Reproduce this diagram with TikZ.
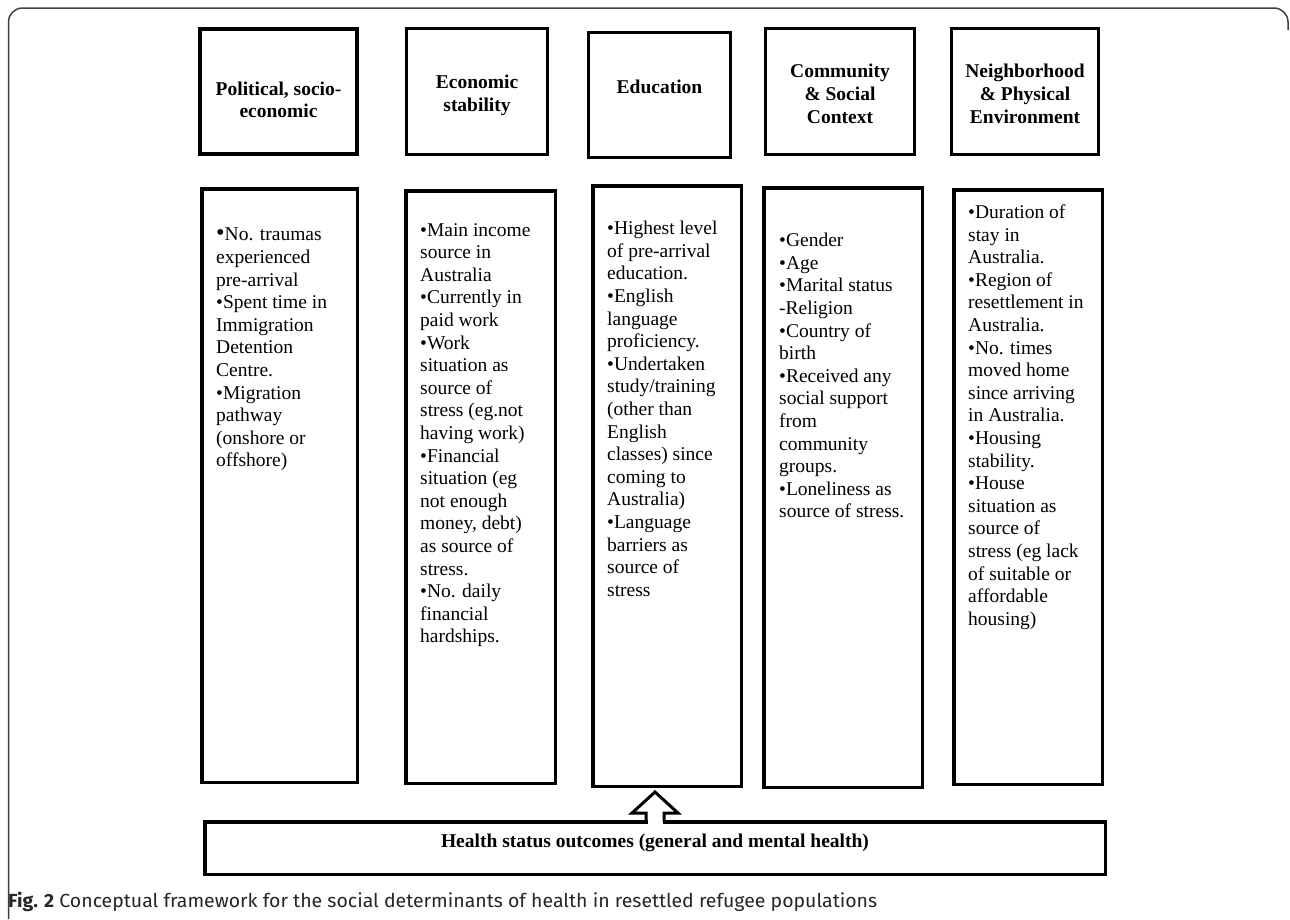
\documentclass[tikz,border=0pt]{standalone}
\usepackage{fontspec}
\usepackage{graphicx}
\setmainfont{Liberation Serif}
\newfontfamily\capfont{Fira Sans}
\usetikzlibrary{calc}
\begin{document}
\begin{tikzpicture}[x=1pt,y=-1pt]
\tikzset{
  topbox/.style={draw=black, fill=white, inner sep=0, line width=3pt},
  lowbox/.style={draw=black, fill=white, inner sep=0, line width=3.5pt},
  hd/.style={font=\fontsize{19.5}{22.7}\selectfont\bfseries, align=center, inner sep=0, anchor=north},
  bd/.style={font=\fontsize{19.5}{22.6}\selectfont, align=left, inner sep=0, anchor=north west},
  blockarrow/.style={draw=black, line width=3pt, line join=miter},
  framecol/.style={draw=black!75, line width=1.5pt, rounded corners=14pt}
}
\useasboundingbox (0,0) rectangle (1290,919);
\fill[white] (0,0) rectangle (1290,919);

% frame
\draw[framecol] (8.5,919) -- (8.5,8) -- (1288,8) -- (1288,30);

% top boxes
\node[topbox, line width=4pt, minimum width=157pt, minimum height=125pt] (t1) at (278.5,91.5) {};
\node[topbox, minimum width=141pt, minimum height=126pt] (t2) at (477,91.5) {};
\node[topbox, minimum width=142pt, minimum height=125pt] (t3) at (659.5,95) {};
\node[topbox, minimum width=149pt, minimum height=126pt] (t4) at (840,91.5) {};
\node[topbox, minimum width=147pt, minimum height=126pt] (t5) at (1025,91.5) {};

\node[hd] (h1) at (278.5,81.5) {Political, socio-\\economic};
\node[hd] (h2) at (477,75) {Economic\\stability};
\node[hd] (h3) at (659.5,80) {Education};
\node[hd] (h4) at (840,64) {Community\\\& Social\\Context};
\node[hd] (h5) at (1025,64) {Neighborhood\\\& Physical\\Environment};

% lower boxes
\node[lowbox, minimum width=155.5pt, minimum height=593.5pt] (l1) at (279.5,485.5) {};
\node[lowbox, minimum width=149.5pt, minimum height=592.5pt] (l2) at (480.5,487) {};
\node[lowbox, minimum width=148.5pt, minimum height=600.5pt] (l3) at (667,486) {};
\node[lowbox, minimum width=158.5pt, minimum height=599.5pt] (l4) at (843,487.5) {};
\node[lowbox, minimum width=148.5pt, minimum height=594.5pt] (l5) at (1028,487) {};

\node[bd] (b1) at (216,228) {{\scalebox{1.25}{•}}No. traumas\\experienced\\pre-arrival\\•Spent time in\\Immigration\\Detention\\Centre.\\•Migration\\pathway\\(onshore or\\offshore)};
\node[bd] (b2) at (420,223) {•Main income\\source in\\Australia\\•Currently in\\paid work\\•Work\\situation as\\source of\\stress (eg.not\\having work)\\•Financial\\situation (eg\\not enough\\money, debt)\\as source of\\stress.\\•No. daily\\financial\\hardships.};
\node[bd] (b3) at (607,221) {•Highest level\\of pre-arrival\\education.\\•English\\language\\proficiency.\\•Undertaken\\study/training\\(other than\\English\\classes) since\\coming to\\Australia)\\•Language\\barriers as\\source of\\stress};
\node[bd] (b4) at (779,233) {•Gender\\•Age\\•Marital status\\-Religion\\•Country of\\birth\\•Received any\\social support\\from\\community\\groups.\\•Loneliness as\\source of stress.};
\node[bd] (b5) at (968,204.5) {•Duration of\\stay in\\Australia.\\•Region of\\resettlement in\\Australia.\\•No. times\\moved home\\since arriving\\in Australia.\\•Housing\\stability.\\•House\\situation as\\source of\\stress (eg lack\\of suitable or\\affordable\\housing)};

% health box
\node[lowbox, minimum width=900.5pt, minimum height=52.5pt] (h) at (655,848) {};
\node[font=\fontsize{19.5}{22.7}\selectfont\bfseries, inner sep=0, anchor=base] (ht) at (655,847.3) {Health status outcomes (general and mental health)};

% block arrow from health box to education box
\fill[white] ([xshift=-7.5pt]h.north) rectangle ([xshift=7.5pt,yshift=-4pt]h.north);
\draw[blockarrow] ([xshift=-9pt,yshift=-1.75pt]h.north) -- ++(0,-8.75) -- ++(-14,0)
  -- ($(h.north |- l3.south)+(0,4)$) -- ++(23,21) -- ++(-14,0) -- ++(0,8.75);

% caption
\node[anchor=base west, inner sep=0, font=\capfont\fontsize{19}{22}\selectfont, text=black!85] (cap) at (8,907)
  {\resizebox{869pt}{\height}{\textbf{Fig. 2} Conceptual framework for the social determinants of health in resettled refugee populations}};
\end{tikzpicture}
\end{document}
